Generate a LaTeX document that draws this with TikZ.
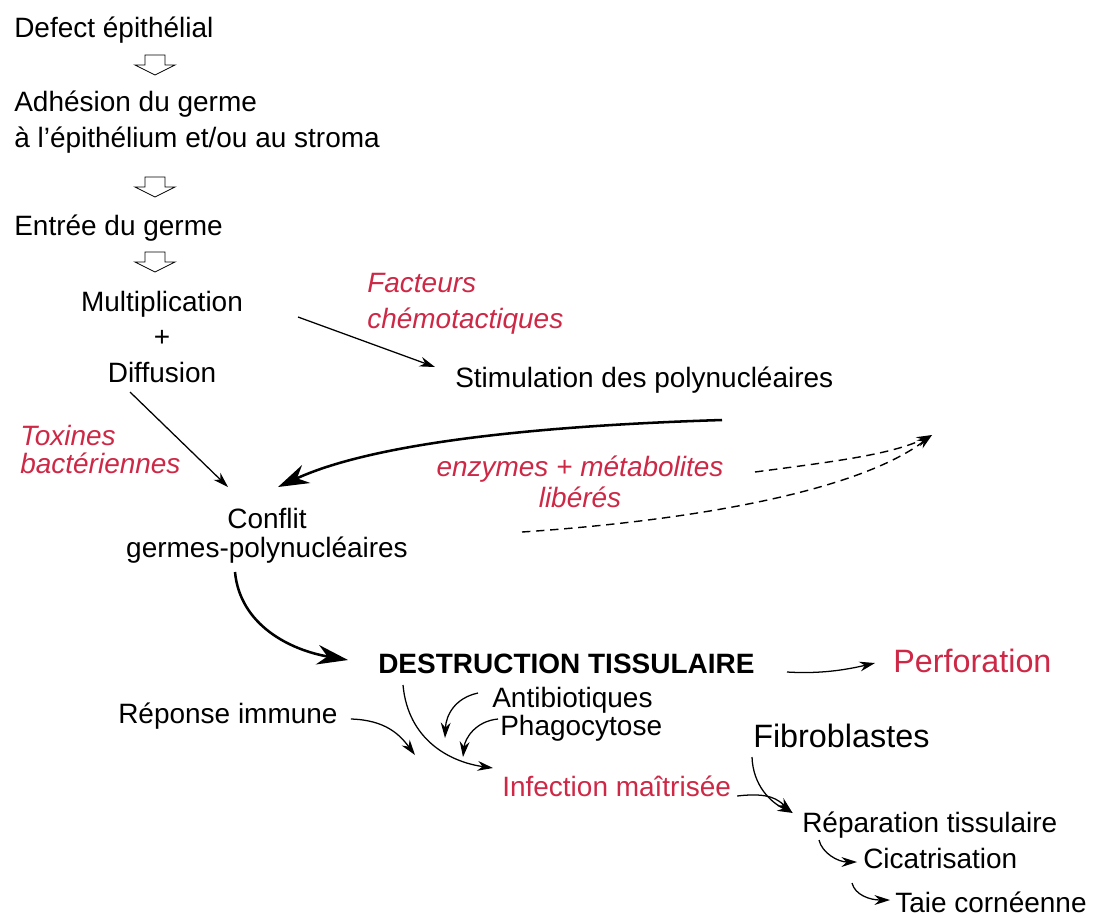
\documentclass[tikz,border=0pt]{standalone}
\usepackage{fontspec}
\setmainfont{Liberation Sans}
\usetikzlibrary{arrows.meta}
\usetikzlibrary{calc}
\definecolor{rouge}{RGB}{205,40,70}

\begin{document}
\begin{tikzpicture}[x=0.025cm, y=-0.025cm, >=Stealth,
    txt/.style={anchor=base west, inner sep=0pt, font=\fontsize{19.9}{24.9}\selectfont},
    ctxt/.style={txt, anchor=base, align=center},
    itred/.style={text=rouge, font=\fontsize{19.9}{24.9}\selectfont\itshape},
    big/.style={font=\fontsize{23}{28}\selectfont},
    arr/.style={-{Stealth[length=11pt, width=7pt]}, line width=0.9pt},
    bigarr/.style={-{Stealth[length=22pt, width=14pt]}, line width=1.8pt},
    dasharr/.style={arr, line width=1pt, dash pattern=on 6pt off 4pt},
    hollow/.pic={\draw[line width=0.6pt] (-10,0) -- (10,0) -- (10,10) -- (20,10) -- (0,20) -- (-20,10) -- (-10,10) -- cycle;}]

    \useasboundingbox (0,0) rectangle (1097,917);

    % Steps at the top
    \node[txt] (defect) at (14,37) {Defect épithélial};
    \node[txt, align=left] (adhesion) at (14,147) {Adhésion du germe\\à l'épithélium et/ou au stroma};
    \node[txt] (entree) at (14,235) {Entrée du germe};
    \foreach \y in {55,177,252} {
        \pic at (155,\y) {hollow};
    }

    % Multiplication and polynuclear cells
    \node[ctxt] (mult) at (162,382) {Multiplication\\+\\Diffusion};
    \node[txt, itred, align=left] (facteurs) at (367,328) {Facteurs\\chémotactiques};
    \node[txt] (stim) at (455,387) {Stimulation des polynucléaires};
    \node[txt, itred, align=left] (toxines) at (20,473) {Toxines\\[-5pt]bactériennes};
    \node[ctxt] (conflit) at (267,557) {Conflit\\[-4.3pt]germes-polynucléaires};
    \node[ctxt, itred] (enzymes) at (580,507) {enzymes + métabolites\\[-2.9pt]libérés};
    \coordinate (libres) at (932,435);

    \draw[arr] ($(mult.base)+(136,-65)$) -- ($(stim.base west)+(-20,-20)$);
    \draw[arr] ($(mult.base)+(-32,10)$) -- ($(conflit.base)+(-39,-70)$);
    \draw[bigarr] ($(stim.base west)+(267,33)$) .. controls +(-162,5) and +(102,-47) .. ($(conflit.base)+(11,-70)$);
    \draw[dasharr] ($(enzymes.base)+(175,-35)$) .. controls +(75,-10) and +(-42,20) .. (libres);
    \draw[dasharr] ($(enzymes.base)+(-58,25)$) .. controls +(178,-12) and +(-72,55) .. (libres);

    % Destruction
    \node[txt, font=\fontsize{19.9}{24.9}\selectfont\bfseries] (destr) at (378,673) {DESTRUCTION TISSULAIRE};
    \node[txt, big, text=rouge] (perfo) at (893,672) {Perforation};
    \node[txt] (antib) at (492,707) {Antibiotiques};
    \node[txt] (phago) at (500,735) {Phagocytose};
    \node[txt] (reponse) at (118,723) {Réponse immune};
    \node[txt, text=rouge] (infect) at (502,796) {Infection maîtrisée};

    \draw[bigarr] ($(conflit.base)+(-32,15)$) .. controls +(5,53) and +(-58,-10) .. ($(destr.base west)+(-30,-13)$);
    \draw[arr] ($(destr.base west)+(409,-1)$) .. controls +(33,2) and +(-30,7) .. ($(perfo.base west)+(-18,-9)$);
    \draw[arr] ($(reponse.base east)+(13,-4)$) .. controls +(35,1) and +(-15,-20) .. ($(infect.base west)+(-87,-41)$);
    \draw[arr] ($(destr.base west)+(25,12)$) .. controls +(5,55) and +(-43,-6) .. ($(infect.base west)+(-9,-28)$);
    \draw[arr] ($(antib.base west)+(-14,-14)$) .. controls +(-23,5) and +(1,-23) .. ($(infect.base west)+(-57,-58)$);
    \draw[arr] ($(phago.base west)+(-2,-16)$) .. controls +(-22,2) and +(2,-19) .. ($(infect.base west)+(-39,-39)$);

    % Repair
    \node[txt, big] (fibro) at (753,747) {Fibroblastes};
    \node[txt] (repar) at (802,832) {Réparation tissulaire};
    \node[txt] (cica) at (863,868) {Cicatrisation};
    \node[txt] (taie) at (895,912) {Taie cornéenne};

    \draw[arr] ($(infect.base east)+(6,0)$) .. controls +(33,-4) and +(-14,-12) .. ($(repar.base west)+(-10,-20)$);
    \draw[arr] ($(fibro.base west)+(-1,10)$) .. controls +(1,28) and +(-23,-11) .. ($(repar.base west)+(-9,-19)$);
    \draw[arr] ($(repar.base west)+(17,8)$) .. controls +(3,13) and +(-19,0) .. ($(cica.base west)+(-6,-6)$);
    \draw[arr] ($(cica.base west)+(-11,15)$) .. controls +(3,12) and +(-20,0) .. ($(taie.base west)+(-5,-12)$);

\end{tikzpicture}
\end{document}
